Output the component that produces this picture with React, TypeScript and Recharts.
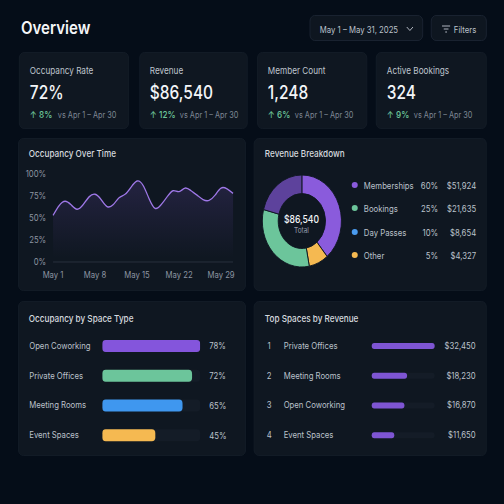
import { Area, AreaChart, Bar, BarChart, Cell, LabelList, Pie, PieChart, XAxis, YAxis } from 'recharts';

const font = "Inter, 'Noto Sans', sans-serif";

// the reference is squeezed sideways, so the page is laid out wider and scaled down
const SQUEEZE = 0.86;
const X = (px: number) => px / SQUEEZE;

const kpiTitles = ['Occupancy Rate', 'Revenue', 'Member Count', 'Active Bookings'];
const kpiValues = ['72%', '$86,540', '1,248', '324'];
const kpiChanges = ['8%', '12%', '6%', '9%'];
const kpiLeft = [19, 139, 257, 376];
const kpiWidth = [110, 109, 110, 111];
const kpiVsLeft = [38, 40, 37, 37];

const days = ['May 1', 'May 2', 'May 3', 'May 4', 'May 5', 'May 6', 'May 7', 'May 8', 'May 9', 'May 10', 'May 11', 'May 12', 'May 13', 'May 14', 'May 15', 'May 16', 'May 17', 'May 18', 'May 19', 'May 20', 'May 21', 'May 22', 'May 23', 'May 24', 'May 25', 'May 26', 'May 27', 'May 28', 'May 29', 'May 30', 'May 31'];
const occupancy = [53, 64, 69, 65, 60, 65, 74, 77, 71, 63, 65, 73, 77, 85, 92, 87, 72, 61, 65, 74, 81, 80, 84, 81, 76, 71, 70, 76, 84, 83, 78];
const dayTicks = ['May 1', 'May 8', 'May 15', 'May 22', 'May 29'];
const percentTicks = [0, 25, 50, 75, 100];

// slice sizes as drawn in the ring, they don't follow the legend percentages
const ringSizes = [39, 8, 32, 21];
const ringColors = ['#8a5bdc', '#f5b951', '#6cc59b', '#5d429c'];

const legendNames = ['Memberships', 'Bookings', 'Day Passes', 'Other'];
const legendShares = ['60%', '25%', '10%', '5%'];
const legendAmounts = ['$51,924', '$21,635', '$8,654', '$4,327'];
const legendColors = ['#8a5bdc', '#6cc59b', '#4a9bef', '#f5b951'];

const spaceTypes = ['Open Coworking', 'Private Offices', 'Meeting Rooms', 'Event Spaces'];
const spaceOccupancy = [78, 72, 65, 45];
const spaceColors = ['#8455dc', '#6cc59b', '#3f97ef', '#f5b951'];

const topSpaces = ['Private Offices', 'Meeting Rooms', 'Open Coworking', 'Event Spaces'];
const topRevenue = [32450, 18230, 16870, 11650];
const topRevenueLabels = ['$32,450', '$18,230', '$16,870', '$11,650'];

const occupancyData = days.map((day, i) => ({ day, value: occupancy[i] }));
const ringData = ringSizes.map((value, i) => ({ value, color: ringColors[i] }));
const spaceData = spaceTypes.map((name, i) => ({ name, value: spaceOccupancy[i], color: spaceColors[i] }));
const topData = topSpaces.map((name, i) => ({ name, value: topRevenue[i] }));

function Box({ left, top, width, height, pill, children }: any) {
    return (
        <div style={{
            position: 'absolute',
            left: X(left),
            top,
            width: X(width),
            height,
            background: pill ? '#0e1620' : '#0f1721',
            borderRadius: 6,
            border: `1px solid ${pill ? '#1b2431' : '#131c27'}`,
            boxSizing: 'border-box',
        }}>
            {children}
        </div>
    );
}

function Txt({ x, y, size = 9, color = '#bcc2cb', weight = 400, right, children }: any) {
    return (
        <div style={{
            position: 'absolute',
            top: y,
            left: right === undefined ? X(x) : undefined,
            right: right === undefined ? undefined : X(right),
            transform: 'translateY(-50%)',
            fontSize: size,
            color,
            fontWeight: weight,
            whiteSpace: 'nowrap',
            lineHeight: 1,
        }}>
            {children}
        </div>
    );
}

function KpiCard({ i }: { i: number }) {
    return (
        <Box left={kpiLeft[i]} top={52} width={kpiWidth[i]} height={77}>
            <Txt x={10} y={17.5} size={9.5} color="#bfc5ce">{kpiTitles[i]}</Txt>
            <Txt x={10} y={40} size={18} color="#f3f5f8" weight={500}>{kpiValues[i]}</Txt>
            <Txt x={10} y={62} size={9.5} color="#6cc59b" weight={500}>↑ {kpiChanges[i]}</Txt>
            <Txt x={kpiVsLeft[i]} y={62} size={8.5} color="#7d8693">vs Apr 1 – Apr 30</Txt>
        </Box>
    );
}

function SpaceTick({ y, payload }: any) {
    return <text x={0} y={y} dy={3} fontSize={9} fill="#bcc2cb" fontFamily={font}>{payload.value}</text>;
}

function SpaceValue({ y, height, index }: any) {
    return <text x={X(180)} y={y + height / 2} dy={3.5} fontSize={9} fill="#bcc2cb" fontFamily={font}>{spaceOccupancy[index]}%</text>;
}

function TopTick({ y, payload, index }: any) {
    return (
        <g fontSize={9} fill="#bcc2cb" fontFamily={font}>
            <text x={X(15.5)} y={y} dy={3} textAnchor="middle">{index + 1}</text>
            <text x={X(30)} y={y} dy={3}>{payload.value}</text>
        </g>
    );
}

function TopValue({ y, height, index }: any) {
    return <text x={X(222)} y={y + height / 2} dy={3} fontSize={9} textAnchor="end" fill="#bcc2cb" fontFamily={font}>{topRevenueLabels[index]}</text>;
}

export default function App() {
    return (
        <div style={{ position: 'fixed', left: 0, top: 0, width: 504, height: 504, overflow: 'hidden', background: '#050d18' }}>
            <div style={{
                position: 'absolute', left: 0, top: 0, width: X(504), height: 504,
                transform: `scaleX(${SQUEEZE})`, transformOrigin: '0 0', fontFamily: font,
            }}>
                <Txt x={21} y={28} size={17.5} color="#f5f6f8" weight={600}>Overview</Txt>

                <Box left={310} top={15} width={113} height={26} pill>
                    <Txt x={9} y={12.5} size={9}>May 1 – May 31, 2025</Txt>
                    <svg width={X(8)} height="6" style={{ position: 'absolute', left: X(95), top: 10 }}>
                        <path d="M1 1 L4.6 4.5 L8.2 1" fill="none" stroke="#bcc2cb" strokeWidth="1" />
                    </svg>
                </Box>
                <Box left={431} top={15} width={56} height={26} pill>
                    <svg width={X(10)} height="8" style={{ position: 'absolute', left: X(9), top: 8.5 }}>
                        <path d="M1 1 H10.5 M3 4 H8.5 M4.7 7 H6.8" fill="none" stroke="#bcc2cb" strokeWidth="1" />
                    </svg>
                    <Txt x={22} y={12.5} size={9}>Filters</Txt>
                </Box>

                {kpiTitles.map((_, i) => <KpiCard key={i} i={i} />)}

                <Box left={18} top={138} width={228} height={153}>
                    <Txt x={10} y={15} size={9.5} color="#d5d9df" weight={500}>Occupancy Over Time</Txt>
                </Box>
                <div style={{ position: 'absolute', left: X(18), top: 138 }}>
                    <AreaChart width={X(228)} height={153} data={occupancyData} margin={{ top: 36, right: X(13), bottom: 0, left: 0 }}>
                        <defs>
                            <linearGradient id="occFill" x1="0" y1="0" x2="0" y2="1">
                                <stop offset="5%" stopColor="#8a5bdc" stopOpacity={0.16} />
                                <stop offset="95%" stopColor="#8a5bdc" stopOpacity={0} />
                            </linearGradient>
                        </defs>
                        <XAxis
                            dataKey="day"
                            ticks={dayTicks}
                            interval={0}
                            height={29}
                            tickMargin={4}
                            tick={{ fill: '#8d95a1', fontSize: 9, fontFamily: font }}
                            axisLine={{ stroke: '#2a333f' }}
                            tickLine={false}
                        />
                        <YAxis
                            domain={[0, 100]}
                            ticks={percentTicks}
                            width={X(35)}
                            tick={{ fill: '#8d95a1', fontSize: 9, fontFamily: font }}
                            tickFormatter={(v) => `${v}%`}
                            axisLine={false}
                            tickLine={false}
                        />
                        <Area type="natural" dataKey="value" stroke="#9f78e8" strokeWidth={1.4} fill="url(#occFill)" fillOpacity={1} isAnimationActive={false} />
                    </AreaChart>
                </div>

                <Box left={254} top={138} width={233} height={153}>
                    <Txt x={10} y={15} size={9.5} color="#d5d9df" weight={500}>Revenue Breakdown</Txt>
                    {legendNames.map((name, i) => {
                        const y = 46 + i * 23.3;
                        return (
                            <div key={name}>
                                <div style={{ position: 'absolute', left: X(97), top: y - 3, width: X(6), height: 6, borderRadius: '50%', background: legendColors[i] }} />
                                <Txt x={109} y={y} size={9}>{name}</Txt>
                                <Txt right={48} y={y} size={9}>{legendShares[i]}</Txt>
                                <Txt right={10} y={y} size={9}>{legendAmounts[i]}</Txt>
                            </div>
                        );
                    })}
                </Box>
                <div style={{ position: 'absolute', left: X(301.5) - 50, top: 171 }}>
                    <PieChart width={100} height={100} margin={{ top: 0, right: 0, bottom: 0, left: 0 }}>
                        <Pie
                            data={ringData}
                            dataKey="value"
                            cx={50}
                            cy={50}
                            innerRadius={27.5}
                            outerRadius={46}
                            startAngle={90}
                            endAngle={-270}
                            stroke="#0f1721"
                            strokeWidth={1}
                            isAnimationActive={false}
                        >
                            {ringData.map((d) => <Cell key={d.color} fill={d.color} />)}
                        </Pie>
                    </PieChart>
                </div>
                <div style={{ position: 'absolute', left: X(301.5) - 30, top: 219, width: 60, textAlign: 'center', transform: 'translateY(-50%)', fontSize: 10, lineHeight: 1, color: '#f3f5f8', fontWeight: 500 }}>$86,540</div>
                <div style={{ position: 'absolute', left: X(301.5) - 30, top: 231, width: 60, textAlign: 'center', transform: 'translateY(-50%)', fontSize: 7.5, lineHeight: 1, color: '#969eaa' }}>Total</div>

                <Box left={18} top={301} width={228} height={155}>
                    <Txt x={10} y={17} size={9.5} color="#d5d9df" weight={500}>Occupancy by Space Type</Txt>
                </Box>
                <div style={{ position: 'absolute', left: X(29), top: 331 }}>
                    <BarChart width={X(217)} height={119} data={spaceData} layout="vertical" margin={{ top: 0, right: X(46), bottom: 0, left: 0 }}>
                        <XAxis type="number" hide domain={[6, 78]} allowDataOverflow />
                        <YAxis type="category" dataKey="name" width={X(73)} tick={<SpaceTick />} axisLine={false} tickLine={false} interval={0} />
                        <Bar dataKey="value" barSize={12} radius={4} background={{ fill: '#141c27', radius: 4 }} isAnimationActive={false}>
                            {spaceData.map((d) => <Cell key={d.name} fill={d.color} />)}
                            <LabelList content={<SpaceValue />} />
                        </Bar>
                    </BarChart>
                </div>

                <Box left={254} top={301} width={233} height={155}>
                    <Txt x={10} y={17} size={9.5} color="#d5d9df" weight={500}>Top Spaces by Revenue</Txt>
                </Box>
                <div style={{ position: 'absolute', left: X(254), top: 331 }}>
                    <BarChart width={X(233)} height={119} data={topData} layout="vertical" margin={{ top: 0, right: X(52), bottom: 0, left: 0 }}>
                        <XAxis type="number" hide domain={[0, 32450]} />
                        <YAxis type="category" dataKey="name" width={X(118)} tick={<TopTick />} axisLine={false} tickLine={false} interval={0} />
                        <Bar dataKey="value" barSize={6} radius={3} fill="#7e55d3" background={{ fill: '#141c27', radius: 3 }} isAnimationActive={false}>
                            <LabelList content={<TopValue />} />
                        </Bar>
                    </BarChart>
                </div>
            </div>
        </div>
    );
}
